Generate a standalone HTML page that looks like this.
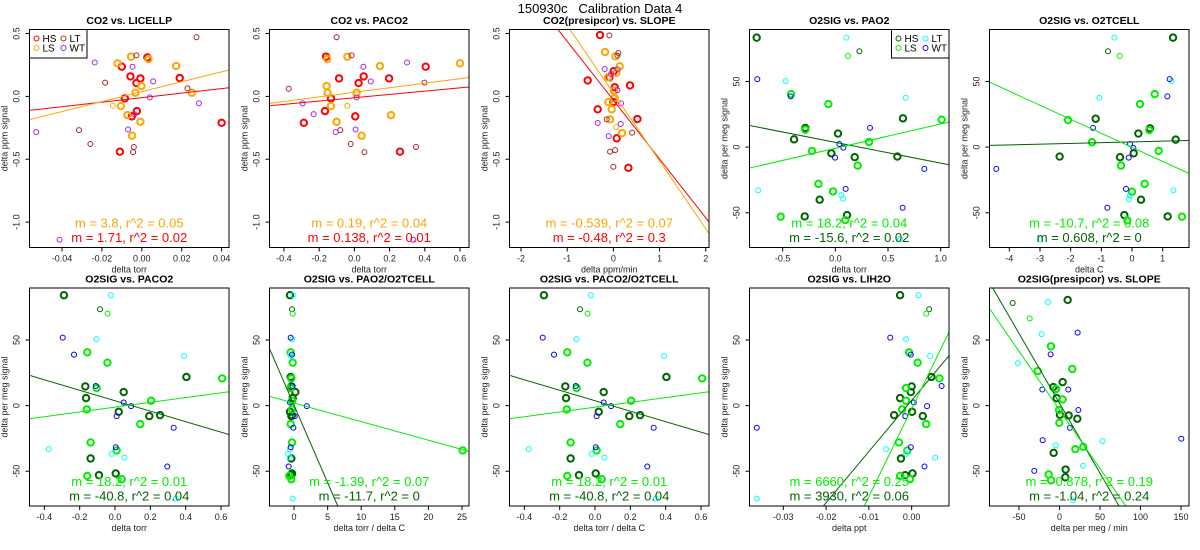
<!DOCTYPE html>
<html><head><meta charset="utf-8"><style>
html,body{margin:0;padding:0;background:#fff;width:1200px;height:550px;overflow:hidden}
svg{display:block;font-family:"Liberation Sans",Arial,sans-serif}
</style></head><body>
<svg id="c" width="1200" height="550" viewBox="0 0 1200 550">
<text x="600" y="13" text-anchor="middle" font-size="13">150930c&#160;&#160;&#160;Calibration Data 4</text>
</svg>
<script>
// ---- data arrays ----
const p1_HS=[[.0028,.31],[-.010,.236],[-.0057,.159],[-.0027,.106],[-.0007,.143],[.019,.146],[-.0085,-.016],[-.0025,-.117],[-.005,-.159],[-.011,-.44],[.040,-.21]];
const p1_LS=[[-.0054,.316],[-.0122,.263],[.0033,.297],[.0172,.241],[-.0002,.082],[-.0032,.029],[.0251,.029],[-.0105,-.077],[-.0072,-.149],[-.0007,-.202],[-.0049,-.313]];
const p1_LT=[[.0274,.47],[-.0027,.326],[-.0184,.109],[.0229,.064],[-.0315,-.268],[-.0258,-.379],[-.004,-.403],[-.0044,-.443]];
const p1_WT=[[-.0236,.27],[-.0047,.236],[.0057,.119],[.004,-.008],[.0286,-.056],[-.0038,-.141],[-.0069,-.263],[-.0529,-.284],[-.0412,-1.14]];
const p1_ls=[[-.0145,-.075]];
const p2_HS=[[-.161,.316],[-.087,.143],[.024,.106],[.053,.159],[.197,.143],[.405,.236],[-.133,-.016],[-.167,-.117],[.005,-.159],[-.287,-.21],[.259,-.44]];
const p2_LS=[[-.154,.297],[-.040,.316],[.145,.241],[.6,.263],[-.158,.082],[-.152,.029],[.013,.029],[-.133,-.077],[-.101,-.202],[.208,-.149],[.041,-.313]];
const p2_LT=[[-.101,.47],[-.016,.326],[-.373,.061],[.398,.109],[-.080,-.268],[-.021,-.379],[.057,-.443],[.350,-.403]];
const p2_WT=[[.051,.236],[.299,.27],[.093,.119],[.013,-.008],[-.294,-.056],[-.231,-.141],[-.106,-.284],[.007,-.263],[.335,-1.14]];
const p2_ls=[[-.04,-.075]];
const p3_HS=[[-.29,.488],[.007,.2],[-.556,.127],[-.087,.151],[.029,.072],[.36,.087],[0,-.045],[-.34,-.103],[.52,-.18],[.072,-.334],[.325,-.568]];
const p3_LS=[[-.18,.353],[.043,.318],[.137,.239],[.065,.188],[-.116,.151],[.014,.045],[.029,-.013],[-.108,-.045],[-.036,-.103],[-.072,-.183],[.188,-.292]];
const p3_LT=[[-.087,.485],[.108,.345],[.087,.324],[-.144,-.183],[.036,-.427],[-.072,-.44],[0,-.56],[.404,-.289]];
const p3_WT=[[-.188,.218],[.094,.215],[-.05,.178],[.087,.05],[.166,-.056],[-.34,-.212],[.159,-.22],[-.1,-.316]];
const p3_ls=[[.06,-.245]];
const p4_HS=[[-.747,83.4],[-.285,14.6],[-.392,5.9],[-.038,-4.7],[.025,10.3],[.184,-7.7],[.589,-7.2],[.642,21.9],[-.149,-40.1],[-.291,-52.8],[.111,-51.8]];
const p4_LS=[[-.421,40.4],[-.066,32.8],[-.285,13.3],[.32,3.9],[-.222,-2.9],[.212,-14.1],[1.009,20.9],[-.161,-28],[-.022,-33.8],[-.519,-53],[.095,-55.6]];
const p4_LT=[[.104,83.4],[-.472,50.3],[.668,37.6],[-.734,-33],[.057,-36.6],[.073,-39.4],[.614,-70.3]];
const p4_WT=[[-.741,51.8],[-.424,38.6],[.329,14.6],[.038,2.4],[.076,-.4],[-.003,-8],[.845,-16.6],[.098,-31.8],[.639,-46.2]];
const p4_hs=[[.228,73]];const p4_ls=[[.12,69.5]];
const p5_HS=[[1.337,83.4],[-1.185,21.6],[.587,14.3],[.207,10.3],[1.424,5.7],[.054,-4.7],[-2.359,-7.2],[-.391,-7.7],[.293,-40.1],[-.25,-51.8],[1.163,-52.8]];
const p5_LS=[[.739,40.4],[.261,32.8],[-2.087,20.6],[.565,13],[-1.304,3.7],[.87,-2.9],[-.359,-14.1],[.413,-28],[0,-34],[1.63,-53],[-.152,-55.8]];
const p5_LT=[[-.576,83.4],[1.293,50.3],[-1.065,37.6],[1.348,-33],[-.065,-37],[-.098,-39.6],[-3.0,-70.3]];
const p5_WT=[[1.228,51.8],[1.152,38.6],[-1.272,14.6],[-.065,2.4],[.043,-.6],[-.109,-8],[-4.424,-16.6],[-.196,-31.8],[-.804,-46.2]];
const p5_hs=[[-.783,73]];const p5_ls=[[-.402,69.5]];
const p6_HS=[[-.289,84.1],[-.168,14.6],[-.164,5.7],[.049,10.3],[.021,-4.7],[.194,-8],[.255,-7.3],[.404,21.8],[-.138,-40.3],[-.091,-53],[.004,-51.7]];
const p6_LS=[[-.157,40.6],[-.043,32.7],[-.104,13.4],[.204,3.7],[-.16,-2.9],[.143,-14.1],[.606,20.7],[-.138,-28.1],[.009,-34.2],[-.157,-53.6],[.038,-56.1]];
const p6_LT=[[-.023,84.1],[-.104,50.6],[.391,37.8],[-.375,-33.2],[-.019,-36.8],[.053,-39.6],[.343,-70.9]];
const p6_WT=[[-.296,51.8],[-.232,38.8],[-.109,14.9],[.049,2.4],[.091,-.4],[.009,-8],[.332,-16.9],[.004,-31.7],[.296,-46.4]];
const p6_hs=[[-.085,73.4]];const p6_ls=[[-.042,70.1]];
const p7_HS=[[-.6,84.1],[-.4,14.6],[-.2,5.7],[.2,10.3],[-.6,-4.7],[-.4,-8],[-.3,-7.3],[-.5,21.8],[-.4,-40.3],[-.4,-53],[-.3,-51.7]];
const p7_LS=[[-.5,40.6],[-.2,32.7],[-.5,13.4],[-.3,3.7],[-.3,-2.9],[-.5,-14.1],[-.4,20.7],[-.3,-28.1],[25.1,-34.2],[-.7,-53.6],[-.4,-56.1]];
const p7_LT=[[-.1,84.1],[-.3,50.6],[-.5,37.8],[-.6,-33.2],[-.9,-36.8],[-.6,-39.6],[-.2,-70.9]];
const p7_WT=[[-.5,51.8],[-.3,38.8],[-.2,14.9],[-.6,2.4],[1.9,-.4],[.1,-8],[-.1,-16.9],[-.5,-31.7],[-.8,-46.4]];
const p7_hs=[[-.3,73.4]];const p7_ls=[[-.2,70.1]];
const p9_HS=[[-.0027,84.1],[0,14.6],[-.0027,5.7],[-.0002,10.3],[.0001,-4.7],[-.0041,-7.3],[.0026,-8],[.0046,21.8],[-.0025,-40.3],[-.0015,-53],[.0002,-51.7]];
const p9_LS=[[-.0006,40.6],[.0014,32.7],[-.0013,13.4],[-.0013,3.7],[-.0022,-2.9],[.0034,-14.1],[.0065,20.7],[-.003,-28.1],[-.001,-34.2],[-.0027,-53.6],[-.0004,-56.1]];
const p9_LT=[[.0016,84.1],[-.0013,50.6],[.0043,37.8],[-.006,-33.2],[-.0013,-36.8],[.0055,-39.6],[-.0362,-70.9]];
const p9_WT=[[-.005,51.8],[-.0002,38.8],[.007,14.9],[.0005,2.4],[.0036,-.4],[-.0015,-8],[-.0362,-16.9],[-.0002,-31.7],[.003,-46.4]];
const p9_hs=[[.0041,73.4]];const p9_ls=[[.0034,70.1]];
const p10_HS=[[10.1,80.5],[-7.6,14.1],[-4.7,12.5],[3.9,17.9],[-3.5,5.7],[.6,-7],[11.3,-7.5],[22,-10],[-7.2,-36],[7.6,-48.7],[7.2,-54.6]];
const p10_LS=[[-10.5,45.2],[15.8,27.9],[-26.9,26.3],[3.9,4.7],[-.6,-3.4],[-.2,-13.1],[29.4,-31.4],[19.5,-33.2],[-13.4,-52.5],[-10.5,-56.9],[-4.3,12.7]];
const p10_LT=[[-14.2,78.8],[-22,54.5],[-51.2,32.4],[-4.7,-30.2],[53.1,-27.1],[29,-45.9],[16.7,-72.1]];
const p10_WT=[[22.4,55.6],[-10.9,39],[-21.2,12.3],[10.9,12.3],[23.3,-3.4],[13,-16.9],[-20.8,-26.3],[150.4,-25.3],[-31.1,-49.7]];
const p10_hs=[[-57.8,78.2]];const p10_ls=[[-36.8,66.5]];
// fit lines: [slope, intercept]
const fitLS=[[3.95,.037],[.181,.032],[-.539,.025],[18.5,-.9],[-10.7,-.2],[18.2,-1.2],[-1.41,1.85],[18.2,-1.2],[6692,-2.4],[-.894,-3.3]];
const fitHS=[[1.8,-.01],[.132,-.011],[-.468,-.03],[-15.8,3.6],[.57,3.95],[-39.9,3.7],[-11.8,.3],[-39.9,3.7],[3900,4],[-1.065,1.8]];
const annoLS=["m = 3.8, r^2 = 0.05","m = 0.19, r^2 = 0.04","m = -0.539, r^2 = 0.07","m = 18.2, r^2 = 0.04","m = -10.7, r^2 = 0.08","m = 18.2, r^2 = 0.01","m = -1.39, r^2 = 0.07","m = 18.2, r^2 = 0.01","m = 6660, r^2 = 0.25","m = -0.878, r^2 = 0.19"];
const annoHS=["m = 1.71, r^2 = 0.02","m = 0.138, r^2 = 0.01","m = -0.48, r^2 = 0.3","m = -15.6, r^2 = 0.02","m = 0.608, r^2 = 0","m = -40.8, r^2 = 0.04","m = -11.7, r^2 = 0","m = -40.8, r^2 = 0.04","m = 3930, r^2 = 0.06","m = -1.04, r^2 = 0.24"];
const titles=["CO2 vs. LICELLP","CO2 vs. PACO2","CO2(presipcor) vs. SLOPE","O2SIG vs. PAO2","O2SIG vs. O2TCELL","O2SIG vs. PACO2","O2SIG vs. PAO2/O2TCELL","O2SIG vs. PACO2/O2TCELL","O2SIG vs. LIH2O","O2SIG(presipcor) vs. SLOPE"];
const xlabels=["delta torr","delta torr","delta ppm/min","delta torr","delta C","delta torr","delta torr / delta C","delta torr / delta C","delta ppt","delta per meg / min"];
const xlims=[[-.0563,.0437],[-.482,.651],[-2.249,2.07],[-.815,1.079],[-4.646,1.858],[-.484,.645],[-3.65,26.04],[-.484,.645],[-.0379,.00873],[-86.4,159.9]];
const xticks=[[-.04,-.02,0,.02,.04],[-.4,-.2,0,.2,.4,.6],[-2,-1,0,1,2],[-.5,0,.5,1],[-4,-3,-2,-1,0,1],[-.4,-.2,0,.2,.4,.6],[0,5,10,15,20,25],[-.4,-.2,0,.2,.4,.6],[-.03,-.02,-.01,0],[-50,0,50,100,150]];
const xtickLabels=[["-0.04","-0.02","0.00","0.02","0.04"],["-0.4","-0.2","0.0","0.2","0.4","0.6"],["-2","-1","0","1","2"],["-0.5","0.0","0.5","1.0"],["-4","-3","-2","-1","0","1"],["-0.4","-0.2","0.0","0.2","0.4","0.6"],["0","5","10","15","20","25"],["-0.4","-0.2","0.0","0.2","0.4","0.6"],["-0.03","-0.02","-0.01","0.00"],["-50","0","50","100","150"]];
const co2Ylim=[-1.202,.532], co2Yticks=[-1,-.5,0,.5], co2YtickLabels=["-1.0","-0.5","0.0","0.5"];
const o2Ylim=[-76.5,89.6], o2Yticks=[-50,0,50], o2YtickLabels=["-50","0","50"];

const pts=[[p1_HS,p1_LS,p1_LT,p1_WT,[],p1_ls],[p2_HS,p2_LS,p2_LT,p2_WT,[],p2_ls],[p3_HS,p3_LS,p3_LT,p3_WT,[],p3_ls],[p4_HS,p4_LS,p4_LT,p4_WT,p4_hs,p4_ls],[p5_HS,p5_LS,p5_LT,p5_WT,p5_hs,p5_ls],[p6_HS,p6_LS,p6_LT,p6_WT,p6_hs,p6_ls],[p7_HS,p7_LS,p7_LT,p7_WT,p7_hs,p7_ls],[p6_HS,p6_LS,p6_LT,p6_WT,p6_hs,p6_ls],[p9_HS,p9_LS,p9_LT,p9_WT,p9_hs,p9_ls],[p10_HS,p10_LS,p10_LT,p10_WT,p10_hs,p10_ls]];

const svg=document.getElementById('c');
const NS='http://www.w3.org/2000/svg';
function mk(tag,attrs,parent){const e=document.createElementNS(NS,tag);for(const k in attrs)e.setAttribute(k,attrs[k]);(parent||svg).appendChild(e);return e;}
const co2Col={HS:'#ff0000',LS:'#ffa500',LT:'#a52a2a',WT:'#a020f0'};
const o2Col={HS:'#006400',LS:'#00ee00',LT:'#00ffff',WT:'#0000ff'};
const grpNames=['HS','LS','LT','WT','HS','LS'];

for(let i=0;i<10;i++){
  const col=i%5,row=Math.floor(i/5);
  const L=col*240+29.5,R=col*240+229,T=row?288:29.5,B=row?506:247.5;
  const isCO2=i<3;
  const ylim=isCO2?co2Ylim:o2Ylim, xl=xlims[i];
  const sx=v=>L+(v-xl[0])/(xl[1]-xl[0])*(R-L);
  const sy=v=>B-(v-ylim[0])/(ylim[1]-ylim[0])*(B-T);
  const cols=isCO2?co2Col:o2Col;
  const g=mk('g',{});
  
  
  const t=mk('text',{x:(L+R)/2,y:T-5.5,'text-anchor':'middle','font-size':'10.5','font-weight':'bold'},g);
  t.textContent=titles[i];
  
  
  xticks[i].forEach((v,k)=>{
    const x=sx(v);
    mk('line',{x1:x,x2:x,y1:B,y2:B+4,stroke:'#000','stroke-width':1},g);
    const tl=mk('text',{x:x,y:B+14,'text-anchor':'middle','font-size':'9','fill':'#222'},g);
    tl.textContent=xtickLabels[i][k];
    
    
  });
  const xlab=mk('text',{x:(L+R)/2,y:B+25,'text-anchor':'middle','font-size':'9','fill':'#222'},g);
  xlab.textContent=xlabels[i];
  
  
  const yt=isCO2?co2Yticks:o2Yticks, ytl=isCO2?co2YtickLabels:o2YtickLabels;
  yt.forEach((v,k)=>{
    const y=sy(v);
    mk('line',{x1:L-4,x2:L,y1:y,y2:y,stroke:'#000','stroke-width':1},g);
    const tl=mk('text',{x:0,y:0,'text-anchor':'middle','font-size':'9','fill':'#222',transform:`translate(${L-10},${y}) rotate(-90)`},g);
    tl.textContent=ytl[k];
    
    
  });
  const ylab=mk('text',{x:0,y:0,'text-anchor':'middle','font-size':'9','fill':'#222',transform:`translate(${L-22},${(T+B)/2}) rotate(-90)`},g);
  ylab.textContent=isCO2?'delta ppm signal':'delta per meg signal';
  
  
  const cp=mk('clipPath',{id:'cp'+i},g);mk('rect',{x:L,y:T,width:R-L,height:B-T},cp);
  const pg=mk('g',{'clip-path':`url(#cp${i})`},g);
  pts[i].forEach((arr,gi)=>{
    const name=grpNames[gi], bold=gi<2;
    arr.forEach(p=>{
      const c=mk('circle',{cx:sx(p[0]),cy:sy(p[1]),r:bold?3.2:2.5,fill:'none',stroke:cols[name],'stroke-width':bold?2:1},pg);
      
      
    });
  });
  [[fitHS[i],cols.HS,'fit-line-hs'],[fitLS[i],cols.LS,'fit-line-ls']].forEach(([f,c,n])=>{
    const ln=mk('line',{x1:sx(xl[0]),y1:sy(f[0]*xl[0]+f[1]),x2:sx(xl[1]),y2:sy(f[0]*xl[1]+f[1]),stroke:c,'stroke-width':1},pg);
    
    
  });
  const a1=mk('text',{x:(L+R)/2,y:B-20,'text-anchor':'middle','font-size':'13',fill:cols.LS},g);
  a1.textContent=annoLS[i];
  
  
  const a2=mk('text',{x:(L+R)/2,y:B-5.5,'text-anchor':'middle','font-size':'13',fill:cols.HS},g);
  a2.textContent=annoHS[i];
  
  
  const box=mk('rect',{x:L,y:T,width:R-L,height:B-T,fill:'none',stroke:'#000','stroke-width':1},g);
  
  
  if(i===0||i===3){
    const lx=i===0?L:R-57.5;
    const lg=mk('g',{},g);
    
    
    mk('rect',{x:lx,y:T,width:57.5,height:28.5,fill:'#fff',stroke:'#000','stroke-width':1},lg);
    [['HS',0,0],['LS',0,1],['LT',1,0],['WT',1,1]].forEach(([n,cx,ry])=>{
      const ex=lx+7+cx*27, ey=T+9+ry*9.5;
      mk('circle',{cx:ex,cy:ey,r:2.5,fill:'none',stroke:cols[n],'stroke-width':1},lg);
      const tx=mk('text',{x:ex+6,y:ey+3.5,'font-size':'10'},lg);
      tx.textContent=n;
      
      
    });
  }
}
</script>
</body></html>
